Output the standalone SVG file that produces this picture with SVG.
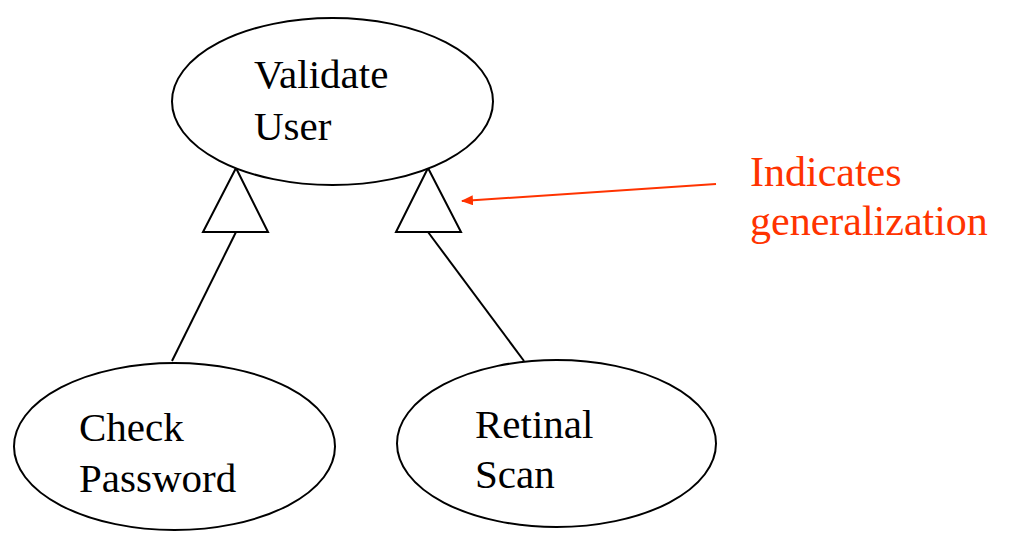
<svg xmlns="http://www.w3.org/2000/svg" width="1009" height="541" viewBox="0 0 1009 541">
  <style>
    .uc { fill: #ffffff; stroke: #000000; stroke-width: 2; }
    .lbl { font-family: "Liberation Serif", "Times New Roman", serif; font-size: 41px; fill: #000000; }
    .note { font-family: "Liberation Serif", "Times New Roman", serif; font-size: 42px; fill: #ff3300; }
    .gen { fill: #ffffff; stroke: #000000; stroke-width: 2; stroke-linejoin: miter; }
    .line { stroke: #000000; stroke-width: 2; fill: none; }
    .pointer { stroke: #ff3300; stroke-width: 2; fill: none; }
  </style>
  <defs>
    <marker id="redArrow" viewBox="0 0 12 10" refX="11" refY="5" markerWidth="12" markerHeight="10" markerUnits="userSpaceOnUse" orient="auto">
      <path d="M0,0 L12,5 L0,10 z" fill="#ff3300"/>
    </marker>
  </defs>
  <rect width="1009" height="541" fill="#ffffff"/>

  <g id="connectors">
    <line class="line" x1="236" y1="232" x2="172" y2="361"/>
    <polygon class="gen" points="236,168 203,232 268,232"/>
    <line class="line" x1="428" y1="232" x2="524" y2="361"/>
    <polygon class="gen" points="428,168 396,232 461,232"/>
    <line class="pointer" x1="716" y1="184" x2="462" y2="201" marker-end="url(#redArrow)"/>
  </g>

  <g id="validate-user">
    <ellipse class="uc" cx="332.5" cy="101.5" rx="160.5" ry="83.5"/>
    <text class="lbl" x="254" y="88">Validate</text>
    <text class="lbl" x="254" y="140">User</text>
  </g>

  <g id="check-password">
    <ellipse class="uc" cx="174.5" cy="446.5" rx="160.5" ry="83.5"/>
    <text class="lbl" x="79" y="441">Check</text>
    <text class="lbl" x="79" y="492">Password</text>
  </g>

  <g id="retinal-scan">
    <ellipse class="uc" cx="556.5" cy="443.5" rx="159.5" ry="83.5"/>
    <text class="lbl" x="475" y="438">Retinal</text>
    <text class="lbl" x="475" y="488">Scan</text>
  </g>

  <g id="note">
    <text class="note" x="750" y="186">Indicates</text>
    <text class="note" x="750" y="235">generalization</text>
  </g>
</svg>
